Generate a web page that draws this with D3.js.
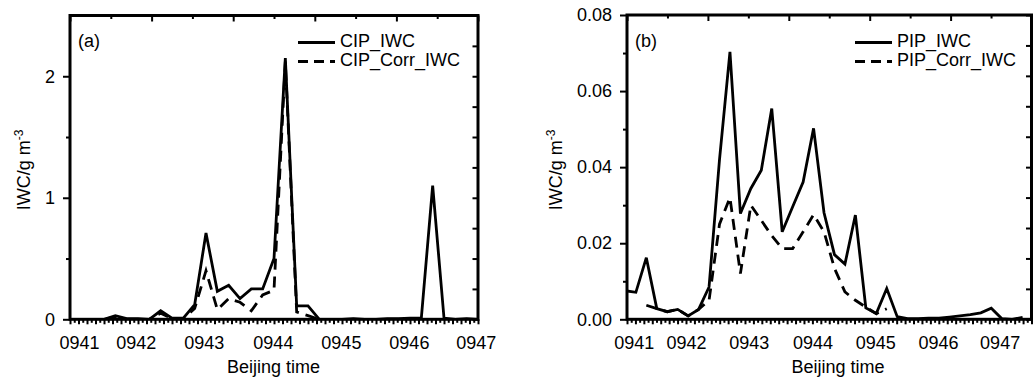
<!DOCTYPE html>
<html><head><meta charset="utf-8">
<script src="https://cdn.jsdelivr.net/npm/d3@7"></script>
<style>
body{margin:0;background:#fff}
svg{display:block;background:#fff}
text{font-family:"Liberation Sans",Arial,sans-serif;fill:#000}
</style>
</head><body>
<svg id="chart" width="1035" height="379"></svg>
<script>
// ---------------- data ----------------
const sampleSeconds = [0,10,20,30,40,50,60,70,80,90,100,110,120,130,140,150,160,170,180,190,
  200,210,220,230,240,250,260,270,280,290,300,310,320,330,340,350,360,370,380];

const cipIWC = [0,0,0,0,0.03,0.005,0.005,0,0.07,0.01,0.01,0.12,0.71,0.23,0.28,0.17,0.25,0.25,0.50,2.15,
  0.11,0.11,0,0,0,0.005,0,0,0.005,0.005,0.01,0.01,1.10,0.01,0,0.005,0];
const cipCorrIWC = [0,0,0,0,0.02,0,0,0,0.05,0.005,0.005,0.09,0.40,0.08,0.17,0.14,0.07,0.20,0.24,2.12,
  0.06,0.03,0,0,0,0,0,0,0,0,0,0,0,0,0,0,0];

const pipIWC = [0.0075,0.0071,0.0162,0.0028,0.0020,0.0026,0.0009,0.0026,0.0085,0.042,0.0703,0.0278,0.0344,
  0.0392,0.0554,0.0230,0.0296,0.0361,0.0502,0.0280,0.0170,0.0145,0.0274,0.0030,0.0015,0.0081,0.0007,
  0.0002,0.0002,0.0003,0.0003,0.0006,0.0009,0.0012,0.0017,0.0029,0.0002,0.0,0.0005];
const pipCorrIWC = [null,null,0.0037,0.0028,0.0020,0.0026,0.0009,0.0026,0.0050,0.025,0.032,0.012,0.030,
  0.026,0.022,0.0186,0.0186,0.023,0.0275,0.023,0.0134,0.0072,0.0050,0.0032,0.0015,0.0028,
  null,null,null,null,null,null,null,null,null,null,null,null,null];

const xTickSeconds = [8,58,118,179,239,299,358];
const xTickLabels = ["0941","0942","0943","0944","0945","0946","0947"];

const yTicksA = [0,1,2];
const yTickLabelsA = ["0","1","2"];
const yMinorA = [0.5,1.5];
const yTicksB = [0,0.02,0.04,0.06,0.08];
const yTickLabelsB = ["0.00","0.02","0.04","0.06","0.08"];
const yMinorB = [0.01,0.03,0.05,0.07];

const legendA = ["CIP_IWC","CIP_Corr_IWC"];
const legendB = ["PIP_IWC","PIP_Corr_IWC"];

// ---------------- drawing ----------------
const svg = d3.select("#chart");
const FS = 18;

function panel(o){
  const g = svg.append("g");
  const x = d3.scaleLinear().domain(o.xDomain).range([o.left, o.right]);
  const y = d3.scaleLinear().domain(o.yDomain).range([o.bottom, o.top]);
  const clipId = "clip-" + o.id;
  svg.append("defs").append("clipPath").attr("id", clipId)
    .append("rect").attr("x", o.left).attr("y", o.top - 2)
    .attr("width", o.right - o.left).attr("height", o.bottom - o.top + 2);

  const solidPts = o.solid.map((v,i)=>[sampleSeconds[i], v]);
  const dashPts = o.dashed.map((v,i)=>[sampleSeconds[i], v]);
  const line = d3.line().defined(d => d[1] != null).x(d => x(d[0])).y(d => y(d[1]));

  const lines = g.append("g").attr("clip-path", `url(#${clipId})`);
  lines.append("path").attr("d", line(dashPts)).attr("fill","none").attr("stroke","#000")
    .attr("stroke-width",2.8).attr("stroke-dasharray","11,7");
  lines.append("path").attr("d", line(solidPts)).attr("fill","none").attr("stroke","#000")
    .attr("stroke-width",2.8);

  // bottom ticks
  const span = o.xDomain[1] - o.xDomain[0];
  const minorVals = d3.range(97).map(i => o.xDomain[0] + i * span / 96);
  const bMinor = d3.axisBottom(x).tickValues(minorVals.filter((d,i)=>i%2===1)).tickSize(3.5).tickFormat("");
  const bMajor = d3.axisBottom(x).tickValues(minorVals.filter((d,i)=>i%2===0)).tickSize(5).tickFormat("");
  const bLab = d3.axisBottom(x).tickValues(xTickSeconds).tickSize(0).tickPadding(17)
    .tickFormat((d,i)=>xTickLabels[i]);
  [bMinor,bMajor,bLab].forEach(ax=>{
    g.append("g").attr("transform",`translate(0,${o.bottom})`).call(ax);
  });

  // top ticks (inward)
  const topVals = d3.range(11).map(i => o.xDomain[0] + i * span / 10);
  g.append("g").attr("transform",`translate(0,${o.top})`)
    .call(d3.axisTop(x).tickValues(topVals.filter((d,i)=>i%2===0)).tickSize(-6).tickFormat(""));
  g.append("g").attr("transform",`translate(0,${o.top})`)
    .call(d3.axisTop(x).tickValues(topVals.filter((d,i)=>i%2===1)).tickSize(-3.5).tickFormat(""));

  // right ticks (inward)
  const yspan = o.yDomain[1] - o.yDomain[0];
  const rightVals = d3.range(11).map(i => o.yDomain[0] + i * yspan / 10);
  g.append("g").attr("transform",`translate(${o.right},0)`)
    .call(d3.axisRight(y).tickValues(rightVals).tickSize(-5.5).tickFormat(""));

  // left ticks
  g.append("g").attr("transform",`translate(${o.left},0)`)
    .call(d3.axisLeft(y).tickValues(o.yMinor).tickSize(4).tickFormat(""));
  g.append("g").attr("transform",`translate(${o.left},0)`)
    .call(d3.axisLeft(y).tickValues(o.yTicks).tickSize(7).tickPadding(o.yPad)
      .tickFormat((d,i)=>o.yLabels[i]));

  g.selectAll(".domain").remove();
  g.selectAll(".tick line").attr("stroke","#000").attr("stroke-width",2);
  g.selectAll(".tick text").attr("font-size",FS).attr("font-family",'"Liberation Sans",Arial,sans-serif').attr("fill","#000");

  // frame
  g.append("rect").attr("x",o.left).attr("y",o.top).attr("width",o.right-o.left)
    .attr("height",o.bottom-o.top).attr("fill","none").attr("stroke","#000").attr("stroke-width",3);

  // panel tag
  g.append("text").attr("x",o.left+8).attr("y",47).attr("font-size",FS).text(o.tag);

  // legend
  const lg = g.append("g");
  const rowsY = [42.5, 61.5];
  o.legend.forEach((lab,i)=>{
    lg.append("line").attr("x1",o.legX).attr("x2",o.legX+37).attr("y1",rowsY[i]).attr("y2",rowsY[i])
      .attr("stroke","#000").attr("stroke-width",2.8).attr("stroke-dasharray", i===1 ? "10,6" : null);
    lg.append("text").attr("x",o.legX+42).attr("y",rowsY[i]+4.8).attr("font-size",FS).text(lab);
  });

  // axis titles
  g.append("text").attr("x",o.xTitleX).attr("y",373).attr("text-anchor","middle")
    .attr("font-size",FS).text("Beijing time");
  const yt = g.append("text").attr("transform",`translate(${o.yTitleX},170) rotate(-90)`)
    .attr("text-anchor","middle").attr("font-size",FS);
  yt.append("tspan").text("IWC/g m");
  yt.append("tspan").attr("font-size",12).attr("dy",-7).text("-3");
}

panel({id:"a", left:70, right:478, top:15.5, bottom:319.3,
  xDomain:[0,360], yDomain:[0,2.5],
  solid:cipIWC, dashed:cipCorrIWC,
  yTicks:yTicksA, yLabels:yTickLabelsA, yMinor:yMinorA, yPad:8,
  tag:"(a)", legend:legendA, legX:298, xTitleX:273.5, yTitleX:30});

panel({id:"b", left:627, right:1031.5, top:15, bottom:319.3,
  xDomain:[1.5,388.5], yDomain:[0,0.08],
  solid:pipIWC, dashed:pipCorrIWC,
  yTicks:yTicksB, yLabels:yTickLabelsB, yMinor:yMinorB, yPad:8,
  tag:"(b)", legend:legendB, legX:855, xTitleX:838, yTitleX:562});
</script>
</body></html>
